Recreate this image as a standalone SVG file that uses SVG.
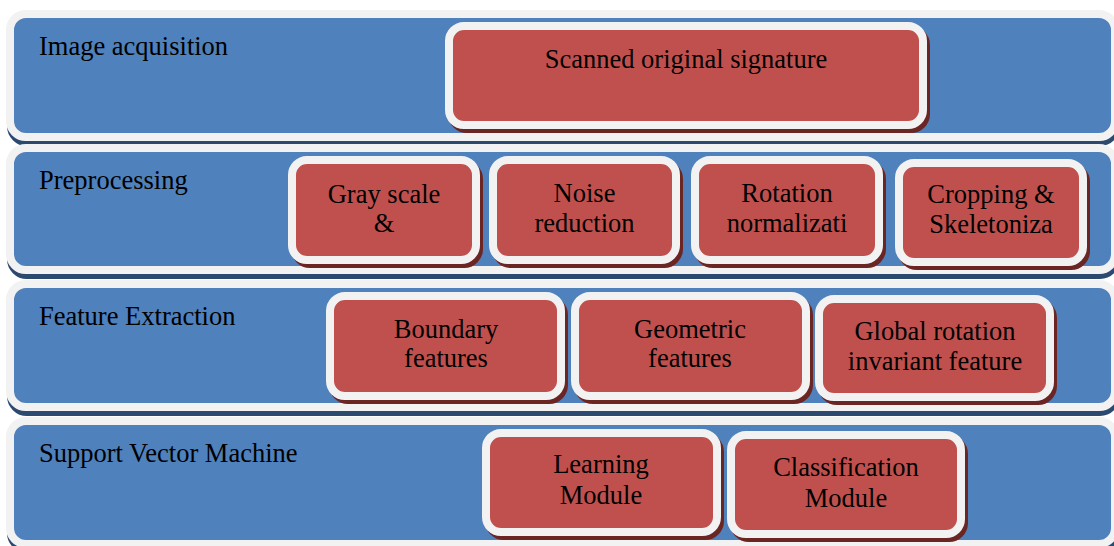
<svg xmlns="http://www.w3.org/2000/svg" width="1114" height="546" viewBox="0 0 1114 546">
  <style>
    .band-shadow { fill: #2c4a70; stroke: #2c4a70; stroke-width: 8; }
    .band { fill: #4f81bd; stroke: #f2f2f2; stroke-width: 8; }
    .box-shadow { fill: #6b2624; stroke: #6b2624; stroke-width: 8; }
    .box { fill: #c0504d; stroke: #f2f2f2; stroke-width: 8; }
    .lbl { font-family: 'Liberation Serif', 'DejaVu Serif', serif; font-size: 26.5px; fill: #000; }
    .c { text-anchor: middle; }
  </style>
  <rect width="1114" height="546" fill="#ffffff"/>

  <!-- stage bands -->
  <g id="band-acquisition">
    <rect class="band-shadow" x="11" y="19" width="1105" height="123" rx="16"/>
    <rect class="band" x="10" y="14" width="1105" height="123" rx="16"/>
    <text class="lbl" x="39" y="55">Image acquisition</text>
  </g>
  <g id="band-preprocessing">
    <rect class="band-shadow" x="11" y="153" width="1105" height="122" rx="16"/>
    <rect class="band" x="10" y="148" width="1105" height="122" rx="16"/>
    <text class="lbl" x="39" y="189">Preprocessing</text>
  </g>
  <g id="band-features">
    <rect class="band-shadow" x="11" y="289" width="1105" height="123" rx="16"/>
    <rect class="band" x="10" y="284" width="1105" height="123" rx="16"/>
    <text class="lbl" x="39" y="325">Feature Extraction</text>
  </g>
  <g id="band-svm">
    <rect class="band-shadow" x="11" y="426" width="1105" height="123" rx="16"/>
    <rect class="band" x="10" y="421" width="1105" height="123" rx="16"/>
    <text class="lbl" x="39" y="462">Support Vector Machine</text>
  </g>

  <!-- step boxes -->
  <g id="scanned">
    <rect class="box-shadow" x="452" y="30" width="474" height="99" rx="15"/>
    <rect class="box" x="449" y="26" width="474" height="99" rx="15"/>
    <text class="lbl c" x="686" y="68">Scanned original signature</text>
  </g>
  <g id="grayscale">
    <rect class="box-shadow" x="295" y="164" width="184" height="100" rx="15"/>
    <rect class="box" x="292" y="160" width="184" height="100" rx="15"/>
    <text class="lbl c" x="384" y="203">Gray scale</text>
    <text class="lbl c" x="384" y="232">&amp;</text>
  </g>
  <g id="noise">
    <rect class="box-shadow" x="496" y="164" width="183" height="100" rx="15"/>
    <rect class="box" x="493" y="160" width="183" height="100" rx="15"/>
    <text class="lbl c" x="584.5" y="202">Noise</text>
    <text class="lbl c" x="584.5" y="232">reduction</text>
  </g>
  <g id="rotation">
    <rect class="box-shadow" x="698" y="164" width="184" height="100" rx="15"/>
    <rect class="box" x="695" y="160" width="184" height="100" rx="15"/>
    <text class="lbl c" x="787" y="202">Rotation</text>
    <text class="lbl c" x="787" y="232">normalizati</text>
  </g>
  <g id="cropping">
    <rect class="box-shadow" x="902" y="167" width="184" height="99" rx="15"/>
    <rect class="box" x="899" y="163" width="184" height="99" rx="15"/>
    <text class="lbl c" x="991" y="203">Cropping &amp;</text>
    <text class="lbl c" x="991" y="233">Skeletoniza</text>
  </g>
  <g id="boundary">
    <rect class="box-shadow" x="333" y="300" width="231" height="100" rx="15"/>
    <rect class="box" x="330" y="296" width="231" height="100" rx="15"/>
    <text class="lbl c" x="446" y="338">Boundary</text>
    <text class="lbl c" x="446" y="367">features</text>
  </g>
  <g id="geometric">
    <rect class="box-shadow" x="578" y="300" width="231" height="100" rx="15"/>
    <rect class="box" x="575" y="296" width="231" height="100" rx="15"/>
    <text class="lbl c" x="690" y="338">Geometric</text>
    <text class="lbl c" x="690" y="367">features</text>
  </g>
  <g id="global">
    <rect class="box-shadow" x="822" y="303" width="231" height="98" rx="15"/>
    <rect class="box" x="819" y="299" width="231" height="98" rx="15"/>
    <text class="lbl c" x="935" y="340">Global rotation</text>
    <text class="lbl c" x="935" y="370">invariant feature</text>
  </g>
  <g id="learning">
    <rect class="box-shadow" x="489" y="437" width="231" height="99" rx="15"/>
    <rect class="box" x="486" y="433" width="231" height="99" rx="15"/>
    <text class="lbl c" x="601" y="473">Learning</text>
    <text class="lbl c" x="601" y="504">Module</text>
  </g>
  <g id="classification">
    <rect class="box-shadow" x="734" y="439" width="230" height="99" rx="15"/>
    <rect class="box" x="731" y="435" width="230" height="99" rx="15"/>
    <text class="lbl c" x="846" y="476">Classification</text>
    <text class="lbl c" x="846" y="507">Module</text>
  </g>

  <!-- no connectors are drawn between the stages -->
  <g id="connectors"/>
</svg>
